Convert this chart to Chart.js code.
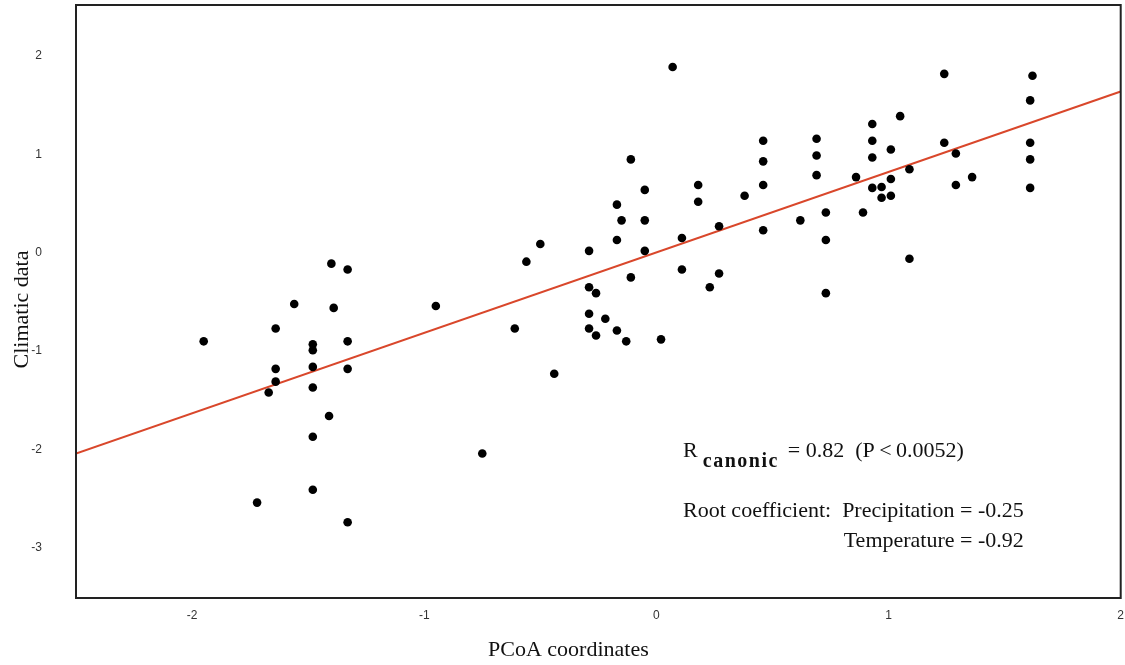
<!DOCTYPE html>
<html>
<head>
<meta charset="utf-8">
<script src="https://cdn.jsdelivr.net/npm/chart.js@4/dist/chart.umd.min.js"></script>
<style>
html,body{margin:0;padding:0;background:#fff;}
#wrap{width:1125px;height:665px;}
</style>
</head>
<body>
<div id="wrap"><canvas id="c" width="1125" height="665"></canvas></div>
<script>
// PCoA coordinate (x) and climatic data (y) for each sample
const pcoaX = [-1.95,-1.72,-1.67,-1.64,-1.64,-1.64,-1.56,-1.48,-1.48,-1.48,-1.48,-1.48,-1.48,-1.41,-1.40,-1.39,-1.33,-1.33,-1.33,-1.33,
  -0.95,-0.75,-0.61,-0.56,-0.50,-0.44,-0.29,-0.29,-0.26,-0.29,-0.29,-0.26,-0.22,-0.17,-0.13,-0.17,-0.15,-0.17,-0.11,-0.11,
  -0.05,-0.05,-0.05,0.02,0.07,0.11,0.11,0.18,0.18,0.23,0.27,0.27,0.38,0.46,0.46,0.46,0.46,0.62,0.69,0.69,
  0.69,0.73,0.73,0.73,0.86,0.89,0.93,0.93,0.93,0.93,0.97,0.97,1.01,1.01,1.01,1.05,1.09,1.09,1.24,1.24,
  1.29,1.29,1.36,1.61,1.61,1.61,1.61,1.62];
const climaticY = [-0.90,-2.54,-1.42,-0.77,-1.18,-1.31,-0.52,-0.93,-0.99,-1.16,-1.37,-1.87,-2.41,-1.66,-0.11,-0.56,-0.17,-0.90,-1.18,-2.74,
  -0.54,-2.04,-0.77,-0.09,0.09,-1.23,0.02,-0.35,-0.41,-0.62,-0.77,-0.84,-0.67,-0.79,-0.90,0.49,0.33,0.13,0.95,-0.25,
  0.64,0.33,0.02,-0.88,1.89,0.15,-0.17,0.69,0.52,-0.35,0.27,-0.21,0.58,1.14,0.93,0.69,0.23,0.33,1.16,0.99,
  0.79,0.41,0.13,-0.41,0.77,0.41,1.31,1.14,0.97,0.66,0.67,0.56,1.05,0.75,0.58,1.39,0.85,-0.06,1.82,1.12,
  1.01,0.69,0.77,1.55,1.12,0.95,0.66,1.80];
// Fitted regression line end points
const lineX = [-2.5, 2.0];
const lineY = [-2.04, 1.64];
// Tick labels
const xTicks = [-2, -1, 0, 1, 2];
const yTicks = [-3, -2, -1, 0, 1, 2];
const xTitle = "PCoA coordinates";
const yTitle = "Climatic data";
const rLabel = "R";
const rSub = "canonic";
const rText = "= 0.82  (P\u2009<\u20090.0052)";
const coefLine1 = "Root coefficient:  Precipitation = -0.25";
const coefLine2 = "Temperature = -0.92";

const points = pcoaX.map((x, i) => ({x: x, y: climaticY[i]}));
const linePts = lineX.map((x, i) => ({x: x, y: lineY[i]}));

const serif = "'Liberation Serif','Times New Roman',serif";
const tickFont = "'Liberation Sans Narrow','Liberation Sans',Arial,sans-serif";

const decor = {
  id: 'decor',
  afterDraw(chart) {
    const ctx = chart.ctx, a = chart.chartArea;
    const xs = chart.scales.x, ys = chart.scales.y;
    ctx.save();
    // frame
    ctx.strokeStyle = '#222';
    ctx.lineWidth = 2;
    ctx.strokeRect(a.left, a.top, a.right - a.left, a.bottom - a.top);
    // axis titles
    ctx.fillStyle = '#111';
    ctx.font = '22px ' + serif;
    ctx.textAlign = 'center';
    ctx.textBaseline = 'middle';
    ctx.fillText(xTitle, (a.left + a.right) / 2 - 30, 650);
    ctx.save();
    ctx.translate(22, (a.top + a.bottom) / 2 + 8);
    ctx.rotate(-Math.PI / 2);
    ctx.fillText(yTitle, 0, 0);
    ctx.restore();
    // annotation
    ctx.textAlign = 'left';
    ctx.textBaseline = 'alphabetic';
    const x0 = xs.getPixelForValue(0.115);
    const yR = ys.getPixelForValue(-2.08);
    ctx.font = '22px ' + serif;
    ctx.fillText(rLabel, x0, yR);
    let w = ctx.measureText(rLabel).width;
    ctx.font = 'bold 20px ' + serif;
    ctx.letterSpacing = '1.5px';
    ctx.fillText(rSub, x0 + w + 5, yR + 10);
    let w2 = ctx.measureText(rSub).width;
    ctx.letterSpacing = '0px';
    ctx.font = '22px ' + serif;
    ctx.fillText(rText, x0 + w + 5 + w2 + 9, yR);
    const y2 = ys.getPixelForValue(-2.69);
    ctx.fillText(coefLine1, x0, y2);
    const wl = ctx.measureText(coefLine1).width;
    const y3 = ys.getPixelForValue(-2.99);
    ctx.textAlign = 'right';
    ctx.fillText(coefLine2, x0 + wl, y3);
    ctx.restore();
  }
};

new Chart(document.getElementById('c'), {
  type: 'scatter',
  data: {
    datasets: [
      {
        type: 'line',
        data: linePts,
        borderColor: '#d9472b',
        borderWidth: 2,
        pointRadius: 0,
        fill: false,
        order: 2
      },
      {
        data: points,
        backgroundColor: '#000',
        borderColor: '#000',
        pointRadius: 4.3,
        pointBorderWidth: 0,
        order: 1
      }
    ]
  },
  options: {
    responsive: false,
    animation: false,
    devicePixelRatio: 1,
    layout: {padding: {top: 5, right: 3, left: 0, bottom: 0}},
    plugins: {legend: {display: false}, tooltip: {enabled: false}},
    scales: {
      x: {
        type: 'linear',
        min: -2.5, max: 2.0,
        grid: {display: false, drawTicks: false},
        border: {display: false},
        afterBuildTicks: s => { s.ticks = xTicks.map(v => ({value: v})); },
        afterFit: s => { s.height = 67; s.paddingLeft = 0; s.paddingRight = 0; },
        ticks: {
          padding: 10,
          font: {family: tickFont, size: 12},
          color: '#333',
          maxRotation: 0,
          callback: v => String(v)
        }
      },
      y: {
        type: 'linear',
        min: -3.51, max: 2.52,
        grid: {display: false, drawTicks: false},
        border: {display: false},
        afterBuildTicks: s => { s.ticks = yTicks.map(v => ({value: v})); },
        afterFit: s => { s.width = 76; s.paddingTop = 0; s.paddingBottom = 0; },
        ticks: {
          padding: 34,
          font: {family: tickFont, size: 12},
          color: '#333',
          callback: v => String(v)
        }
      }
    }
  },
  plugins: [decor]
});
</script>
</body>
</html>
